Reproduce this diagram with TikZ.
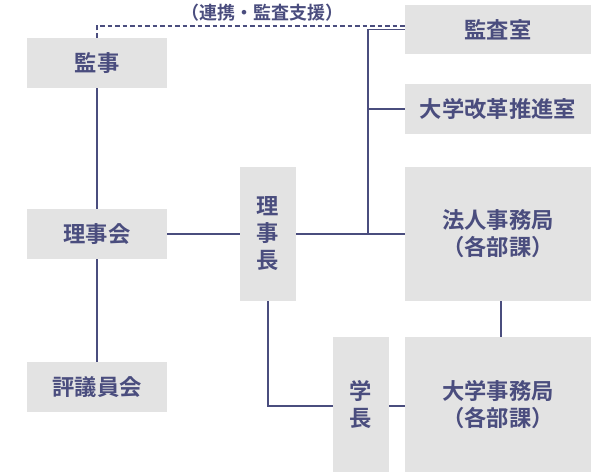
\documentclass[tikz,border=0pt]{standalone}
\usepackage{fontspec}
\setmainfont{Noto Sans CJK JP}[BoldFont={Noto Sans CJK JP Bold}]
\newfontfamily\jpb{Noto Sans CJK JP Bold}
\definecolor{navy}{HTML}{4A4D7E}
\definecolor{boxg}{HTML}{E3E3E3}
\begin{document}
\begin{tikzpicture}[x=1pt,y=-1pt,
  box/.style={fill=boxg,draw=none,inner sep=0pt,text=navy,font=\jpb\fontsize{22.3}{27}\selectfont,align=center},
  conn/.style={draw=navy,line width=1.6pt},
  lbl/.style={text=navy,font=\jpb\fontsize{18}{20}\selectfont,inner sep=0pt}]
\useasboundingbox (0,0) rectangle (600,474);
\node[box,minimum width=140pt,minimum height=50pt] (kanji) at (97,63) {監事};
\node[box,minimum width=140pt,minimum height=50pt] (rijikai) at (97,234) {理事会};
\node[box,minimum width=140pt,minimum height=50pt] (hyogi) at (97,387) {評議員会};
\node[box,minimum width=56pt,minimum height=134pt] (richo) at (268,234) {理\\事\\長};
\node[box,minimum width=56pt,minimum height=135pt] (gakucho) at (361,404.5) {学\\長};
\node[box,minimum width=186pt,minimum height=49pt] (kansa) at (498,29.5) {監査室};
\node[box,minimum width=186pt,minimum height=50pt] (kaikaku) at (498,109) {大学改革推進室};
\node[box,minimum width=186pt,minimum height=134pt] (hojin) at (498,234) {法人事務局\\（各部課）};
\node[box,minimum width=186pt,minimum height=135pt] (daigaku) at (498,404.5) {大学事務局\\（各部課）};
\node[lbl] (renkei) at (262,12.5) {（連携・監査支援）};
\coordinate (j1) at (368,234);
\coordinate (d1) at (97,26);
\coordinate (d2) at (405,26);
\coordinate (g1) at (268,406);
\coordinate (v1) at (501,0);
\draw[conn] (kanji.south) -- (rijikai.north);
\draw[conn] (rijikai.south) -- (hyogi.north);
\draw[conn] (rijikai.east) -- (richo.west);
\draw[conn] (richo.east) -- (hojin.west);
\draw[conn] (j1) -- (kansa.west -| j1) -- (kansa.west);
\draw[conn] (kaikaku.west -| j1) -- (kaikaku.west);
\draw[conn] (richo.south) -- (g1) -- (gakucho.west |- g1);
\draw[conn] (gakucho.east |- g1) -- (daigaku.west |- g1);
\draw[conn] (hojin.south -| v1) -- (daigaku.north -| v1);
\draw[navy,line width=1.4pt,dash pattern=on 4.5pt off 3pt] (kanji.north) -- (d1) -- (d2);
\end{tikzpicture}
\end{document}
